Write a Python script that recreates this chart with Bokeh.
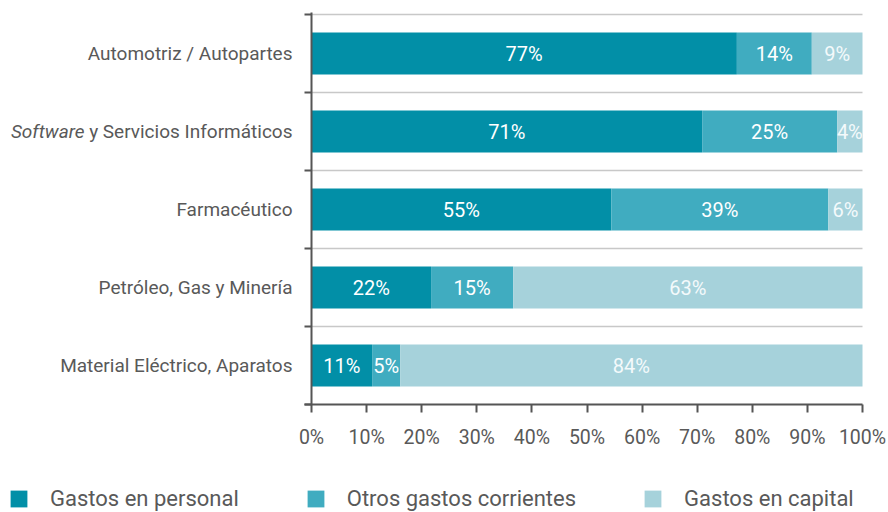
from bokeh.plotting import figure
from bokeh.models import (ColumnDataSource, FixedTicker, Label, Legend, LegendItem,
                          Range1d, LabelSet)
from bokeh.embed import file_html
from bokeh.resources import INLINE
from bokeh.core.properties import value

# ---- data ----
categories = ["Automotriz / Autopartes", "Software y Servicios Informáticos",
              "Farmacéutico", "Petróleo, Gas y Minería", "Material Eléctrico, Aparatos"]
personal = [77.2, 70.9, 54.4, 21.7, 11.0]
otros = [13.6, 24.5, 39.4, 14.9, 5.1]
capital = [9.2, 4.6, 6.2, 63.4, 83.9]
label_personal = ["77%", "71%", "55%", "22%", "11%"]
label_otros = ["14%", "25%", "39%", "15%", "5%"]
label_capital = ["9%", "4%", "6%", "63%", "84%"]
series_names = ["Gastos en personal", "Otros gastos corrientes", "Gastos en capital"]
x_ticks = [0, 10, 20, 30, 40, 50, 60, 70, 80, 90, 100]
x_tick_labels = ["0%", "10%", "20%", "30%", "40%", "50%", "60%", "70%", "80%", "90%", "100%"]

colors = ["#028fa7", "#40acc0", "#a6d2db"]
label_colors = ["#ffffff", "#ffffff", "#f4fafb"]
FONT = "Roboto"
TEXT = "#595959"

n = len(categories)
ypos = [n - 0.5 - i for i in range(n)]

W, H = 888, 512
X0, X100, Y_TOP, Y_BOT = 311, 862, 14, 404
PX = (X100 - X0) / 100.0          # px per percent
PY = (Y_BOT - Y_TOP) / float(n)   # px per category

p = figure(width=W, height=H, output_backend="svg", toolbar_location=None,
           x_range=Range1d(-X0 / PX, 100 + (W - X100) / PX),
           y_range=Range1d(-(H - Y_BOT) / PY, n + Y_TOP / PY),
           min_border=0)
p.outline_line_color = None
p.background_fill_color = None
p.border_fill_color = "white"

series = [personal, otros, capital]
labels = [label_personal, label_otros, label_capital]
renderers = []
left = [0.0] * n
for vals, labs, col, lcol in zip(series, labels, colors, label_colors):
    right = [l + v for l, v in zip(left, vals)]
    src = ColumnDataSource(dict(y=ypos, left=left, right=right,
                                mid=[(l + r) / 2 for l, r in zip(left, right)], lab=labs))
    r = p.hbar(y="y", left="left", right="right", height=0.54, source=src,
               fill_color=col, line_color=None)
    renderers.append(r)
    p.add_layout(LabelSet(x="mid", y="y", text="lab", source=src, text_align="center",
                          text_baseline="middle", text_color=lcol, text_font_size="20px",
                          text_font=value(FONT)))
    left = right

# grid
p.xgrid.visible = False
p.ygrid.ticker = FixedTicker(ticks=list(range(1, n + 1)))
p.ygrid.grid_line_color = "#c8c8c8"
p.ygrid.grid_line_width = 1.5
p.ygrid.cross_bounds = (0, 100)

# x axis at y=0
xa = p.xaxis[0]
xa.fixed_location = 0
xa.ticker = FixedTicker(ticks=x_ticks)
xa.bounds = (-1.2, 100)
xa.major_label_overrides = {t: s for t, s in zip(x_ticks, x_tick_labels)}
xa.major_tick_out = 8
xa.major_tick_in = 0
xa.minor_tick_out = 0
xa.axis_line_color = "#555555"
xa.axis_line_width = 2
xa.major_tick_line_color = "#555555"
xa.major_tick_line_width = 2
xa.major_label_text_font = FONT
xa.major_label_text_font_size = "19.5px"
xa.major_label_text_color = TEXT
xa.major_label_standoff = 13

# y axis at x=0 with ticks at category boundaries only
ya = p.yaxis[0]
ya.fixed_location = 0
ya.bounds = (0, n + 0.03)
ya.ticker = FixedTicker(ticks=[], minor_ticks=list(range(0, n + 1)))
ya.major_label_text_font_size = "0px"
ya.minor_tick_out = 7
ya.minor_tick_in = 0
ya.minor_tick_line_color = "#555555"
ya.minor_tick_line_width = 2
ya.axis_line_color = "#555555"
ya.axis_line_width = 2

# category labels
RX = 292
for cat, y in zip(categories, ypos):
    if cat.startswith("Software"):
        rest = cat[len("Software"):]
        p.add_layout(Label(x=RX, y=y, x_units="screen", text=rest.strip(), text_align="right",
                           text_baseline="middle", text_font=FONT, text_font_size="19px",
                           text_color=TEXT))
        p.add_layout(Label(x=RX - 208, y=y, x_units="screen", text="Software", text_align="right",
                           text_baseline="middle", text_font=FONT, text_font_size="19px",
                           text_font_style="italic", text_color=TEXT))
    else:
        p.add_layout(Label(x=RX, y=y, x_units="screen", text=cat, text_align="right",
                           text_baseline="middle", text_font=FONT, text_font_size="19px",
                           text_color=TEXT))

legend = Legend(items=[LegendItem(label=nm, renderers=[r]) for nm, r in zip(series_names, renderers)],
                orientation="horizontal", location=(8, 1),
                glyph_width=21, glyph_height=21, label_standoff=21, spacing=66,
                label_text_font=FONT, label_text_font_size="22px", label_text_color=TEXT,
                padding=0, margin=0, border_line_color=None, background_fill_alpha=0)
p.add_layout(legend, "center")

open("out.html", "w").write(file_html(p, INLINE))
